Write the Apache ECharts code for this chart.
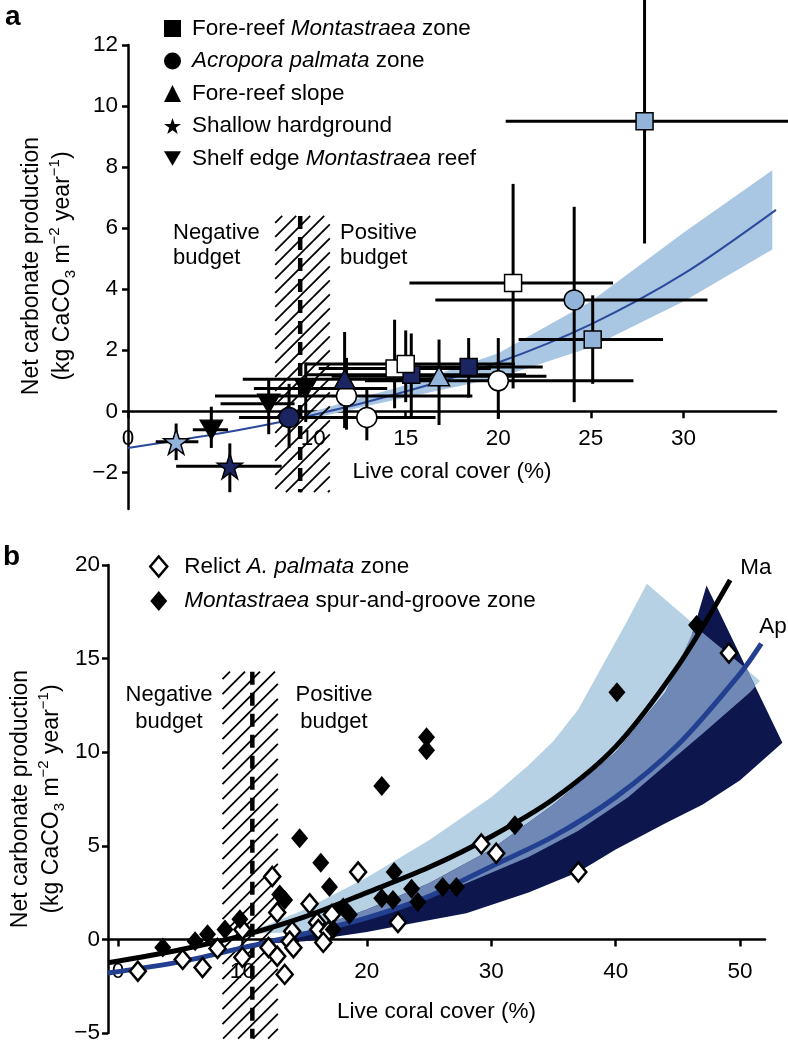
<!DOCTYPE html>
<html>
<head>
<meta charset="utf-8">
<script src="https://cdn.jsdelivr.net/npm/echarts@6.0.0/dist/echarts.min.js"></script>
<style>
  html, body { margin: 0; background: #fff; }
  #chart { width: 788px; height: 1046px; }
</style>
</head>
<body>
<div id="chart"></div>
<script>
const FONT = '"Liberation Sans", Arial, Helvetica, sans-serif'

// ---------- panel a : [cover, production, cover lo, cover hi, prod lo, prod hi]
const foreReefMontastraea = [
  [27.9, 9.5, 20.4, 35.7, 5.5, 14.0],
  [20.8, 4.2, 15.2, 26.2, 0.75, 7.45],
  [25.1, 2.35, 21.1, 28.9, 0.9, 3.8],
  [18.4, 1.45, 14.3, 22.4, 0.45, 2.4],
  [15.3, 1.2, 9.6, 21.5, -0.2, 2.55],
  [14.4, 1.4, 10.3, 19.6, 0.1, 3.0],
  [15.0, 1.55, 9.6, 20.9, 0.3, 2.65]
]
const foreReefMontastraeaSite = ['B', 'C', 'B', 'A', 'A', 'C', 'C']

const acroporaPalmata = [
  [24.1, 3.65, 16.6, 31.3, 0.3, 6.7],
  [20.0, 1.0, 12.8, 27.3, -0.25, 2.4],
  [11.8, 0.5, 4.7, 18.6, -0.6, 1.75],
  [12.9, -0.2, 9.0, 16.6, -0.95, 0.75],
  [8.7, -0.2, 6.0, 16.6, -1.2, 0.9]
]
const acroporaPalmataSite = ['B', 'C', 'C', 'C', 'A']

const foreReefSlope = [
  [16.8, 1.15, 11.0, 22.6, -0.45, 2.35],
  [11.7, 1.05, 6.2, 17.2, -0.55, 2.6]
]
const foreReefSlopeSite = ['B', 'A']

const shallowHardground = [
  [2.6, -1.0, 1.5, 3.8, -1.6, -0.4],
  [5.5, -1.8, 2.6, 8.3, -2.65, -1.05]
]
const shallowHardgroundSite = ['B', 'A']

const shelfEdge = [
  [4.5, -0.6, 3.5, 5.4, -1.2, 0.15],
  [7.6, 0.25, 5.0, 9.0, -0.75, 1.05],
  [9.6, 0.75, 6.8, 14.0, -0.35, 1.6]
]

const fitA = [[0, -1.2], [5, -0.72], [10, -0.12], [15, 0.65], [20, 1.6], [25, 2.85], [30, 4.5], [35, 6.6]]
const bandAUpper = [[9.5, -0.1], [12, 0.35], [15, 0.85], [20, 1.9], [25, 3.6], [30, 5.85], [34.8, 7.9]]
const bandALower = [[9.5, -0.3], [12, 0.05], [15, 0.45], [20, 1.1], [25, 2.1], [30, 3.6], [34.8, 5.3]]
const hatchA = [7.95, 10.9, -2.65, 6.4]   // cover from, cover to, prod from, prod to
const thresholdA = 9.3
const xTicksA = [0, 10, 15, 20, 25, 30]
const yTicksA = [-2, 0, 2, 4, 6, 8, 10, 12]

// ---------- panel b : [cover, production]
const relictPalmata = [
  [1.6, -1.7], [5.2, -1.07], [6.8, -1.5], [8.0, -0.48], [10.0, 0.53], [10.0, -0.96],
  [12.4, 3.36], [12.8, 1.44], [12.1, -0.43], [12.8, -0.9], [13.4, -1.87], [14.0, 0.43],
  [13.8, -0.1], [14.1, -0.45], [15.4, 1.9], [16.0, 0.9], [16.1, 0.53], [16.9, 0.43],
  [16.5, -0.16], [17.2, 1.33], [19.3, 3.6], [22.5, 0.9], [29.2, 5.1], [30.4, 4.6],
  [37.0, 3.6], [49.1, 15.3]
]
const montastraeaSpur = [
  [3.6, -0.43], [6.2, -0.1], [7.2, 0.27], [8.6, 0.53], [9.8, 1.07], [13.0, 2.4],
  [13.4, 2.1], [14.6, 5.4], [16.3, 4.1], [17.0, 2.8], [17.3, 0.53], [18.1, 1.7],
  [18.6, 1.33], [21.2, 8.2], [22.2, 3.6], [21.2, 2.2], [22.1, 2.1], [23.6, 2.7],
  [24.1, 2.0], [24.8, 10.8], [24.8, 10.1], [26.1, 2.8], [27.2, 2.8], [31.9, 6.1],
  [40.1, 13.2], [46.5, 16.8]
]
const fitMa = [[-0.8, -1.25], [5, -0.55], [10, 0.2], [15, 1.2], [20, 2.5], [25, 3.85], [30, 5.5], [35, 7.5], [40, 10.3], [45, 14.6], [49.2, 19.2]]
const fitAp = [[-0.8, -1.8], [5, -1.2], [10, -0.45], [15, 0.3], [20, 1.15], [25, 2.3], [30, 3.9], [35, 5.5], [40, 7.6], [45, 10.4], [50, 14.2], [51.7, 15.8]]

const bandMaUpper = [[10.5, 0.35], [15, 1.6], [20, 3.3], [25, 5.3], [30, 7.6], [33, 9.3], [35, 10.6], [37, 12.3], [39.5, 15.3], [41, 17.1], [42.5, 19.0], [51.6, 13.8]]
const bandMaLower = [[10.5, 0.3], [15, 0.4], [20, 1.2], [24, 2.0], [28, 3.0], [33, 4.4], [37, 5.8], [41, 7.6], [44, 9.3], [47, 11.0], [50.8, 13.3]]
const bandApUpper = [[11.5, -0.2], [15, 0.4], [20, 1.6], [25, 3.0], [30, 4.8], [35, 7.2], [40, 10.0], [44, 13.2], [46, 16.0], [47.3, 18.9], [53.4, 10.5]]
const bandApLower = [[11.5, -0.25], [15, -0.1], [20, 0.4], [24, 0.9], [28, 1.4], [33, 2.5], [37, 3.6], [40, 4.8], [44, 6.2], [47, 7.2], [50, 8.5]]
const overlapUpper = [[15, 0.4], [20, 1.6], [25, 3.0], [30, 4.8], [35, 7.2], [40, 10.0], [44, 13.2], [46.4, 16.7], [50.6, 14.4], [51.2, 13.5]]
const overlapLower = [[15, 0.4], [20, 1.2], [24, 2.0], [28, 3.0], [33, 4.4], [37, 5.8], [41, 7.6], [44, 9.3], [47, 11.0], [50.8, 13.2]]
const hatchB = [8.4, 12.85, -5.3, 14.3]
const thresholdB = 10.8
const xTicksB = [0, 10, 20, 30, 40, 50]

// ---------- styling
const siteFill = { A: '#1b2561', B: '#93b4da', C: '#ffffff' }
const STAR = 'path://M12,0 L14.9,8.6 L24,8.6 L16.6,14 L19.4,22.8 L12,17.4 L4.6,22.8 L7.4,14 L0,8.6 L9.1,8.6 Z'
const DOWN = 'path://M0,0 L20,0 L10,17 Z'
const FS = 22.5

const chart = echarts.init(document.getElementById('chart'))

function points(rows, sites) {
  return rows.map((r, i) => sites
    ? { value: [r[0], r[1]], itemStyle: { color: siteFill[sites[i]] } }
    : [r[0], r[1]])
}

function scatter(name, rows, sites, symbol, size, gi) {
  return {
    name, type: 'scatter', xAxisIndex: gi, yAxisIndex: gi, z: 5,
    symbol, symbolSize: size,
    itemStyle: { color: '#000', borderColor: '#000', borderWidth: 1.5, opacity: 1 },
    data: points(rows, sites)
  }
}

function polygon(upper, lower, color, gi, z) {
  const pts = upper.concat(lower.slice().reverse())
  return {
    type: 'custom', xAxisIndex: gi, yAxisIndex: gi, z, silent: true, data: pts,
    renderItem: (params, api) => params.dataIndex !== 0 ? null : {
      type: 'polygon', shape: { points: pts.map(p => api.coord(p)) }, style: { fill: color }
    }
  }
}

function hatch(box, threshold, gi, gap) {
  return {
    type: 'custom', xAxisIndex: gi, yAxisIndex: gi, z: 3, silent: true, data: [box],
    renderItem(params, api) {
      const tl = api.coord([box[0], box[3]])
      const br = api.coord([box[1], box[2]])
      const L = tl[0], T = tl[1], R = br[0], B = br[1]
      const children = []
      for (let c = L + T + gap / 2; c < R + B; c += gap) {
        const xa = Math.max(L, c - B), xb = Math.min(R, c - T)
        if (xb > xa) children.push({ type: 'line', shape: { x1: xa, y1: c - xa, x2: xb, y2: c - xb }, style: { stroke: '#000', lineWidth: 1.8 } })
      }
      const t0 = api.coord([threshold, box[3]]), t1 = api.coord([threshold, box[2]])
      children.push({ type: 'line', shape: { x1: t0[0], y1: t0[1], x2: t1[0], y2: t1[1] }, style: { stroke: '#000', lineWidth: 4.5, lineDash: [13, 8] } })
      return { type: 'group', children }
    }
  }
}

function errorBars(rows) {
  return {
    type: 'custom', xAxisIndex: 0, yAxisIndex: 0, z: 4, silent: true, data: rows,
    renderItem(params, api) {
      const x = api.value(0), y = api.value(1)
      const a = api.coord([api.value(2), y]), b = api.coord([api.value(3), y])
      const c = api.coord([x, api.value(4)]), d = api.coord([x, api.value(5)])
      const style = { stroke: '#000', lineWidth: 3 }
      return {
        type: 'group', children: [
          { type: 'line', shape: { x1: a[0], y1: a[1], x2: b[0], y2: b[1] }, style },
          { type: 'line', shape: { x1: c[0], y1: c[1], x2: d[0], y2: d[1] }, style }
        ]
      }
    }
  }
}

const axisText = { fontSize: FS, fontFamily: FONT, color: '#000' }
const axisLine = { lineStyle: { color: '#000', width: 2.5 } }

// the x axes cross at production = 0; v6 keeps labels at the grid edge with onZero, so shift the whole axis up
function xAxis(gi, min, max, ticks, margin, nameGap, offset) {
  return {
    type: 'value', gridIndex: gi, min, max, offset,
    name: 'Live coral cover (%)', nameLocation: 'middle', nameGap,
    nameTextStyle: axisText,
    axisLine: { show: true, onZero: false, ...axisLine },
    axisTick: { show: true, length: 7, customValues: ticks, lineStyle: { color: '#000', width: 2.5 } },
    axisLabel: { ...axisText, margin, customValues: ticks },
    splitLine: { show: false }
  }
}

function yAxis(gi, min, max, ticks, margin) {
  return {
    type: 'value', gridIndex: gi, min, max,
    axisLine: { show: true, onZero: false, ...axisLine },
    axisTick: { show: true, length: 6, customValues: ticks, lineStyle: { color: '#000', width: 2.5 } },
    axisLabel: { ...axisText, margin, customValues: ticks, formatter: v => String(v).replace('-', '\u2212') },
    splitLine: { show: false }
  }
}

const legendNames = {
  'Fore-reef Montastraea zone': 'Fore-reef {i|Montastraea} zone',
  'Acropora palmata zone': '{i|Acropora palmata} zone',
  'Fore-reef slope': 'Fore-reef slope',
  'Shallow hardground': 'Shallow hardground',
  'Shelf edge Montastraea reef': 'Shelf edge {i|Montastraea} reef',
  'Relict A. palmata zone': 'Relict {i|A. palmata} zone',
  'Montastraea spur-and-groove zone': '{i|Montastraea} spur-and-groove zone'
}
const legendText = {
  fontSize: FS, fontFamily: FONT, color: '#000',
  rich: { i: { fontSize: FS, fontFamily: FONT, fontStyle: 'italic', color: '#000' } }
}
const black = { color: '#000', borderWidth: 0 }

const yTitle = '{t|Net carbonate production}\n{t|(kg CaCO}{sub|3}{t| m}{sup|\u22122}{t| year}{sup|\u22121}{t|)}'
const yTitleRich = {
  t: { fontSize: 23, fontFamily: FONT, lineHeight: 31, fill: '#000' },
  sub: { fontSize: 15, fontFamily: FONT, verticalAlign: 'bottom', lineHeight: 28, fill: '#000' },
  sup: { fontSize: 15, fontFamily: FONT, verticalAlign: 'top', lineHeight: 28, fill: '#000' }
}
const plain = (text, x, y, lh, align) => ({
  type: 'text', x, y,
  style: { text, font: '22px ' + FONT, lineHeight: lh, fill: '#000', align, verticalAlign: 'top' }
})

const option = {
  animation: false,
  backgroundColor: '#fff',
  textStyle: { fontFamily: FONT },
  grid: [
    { left: 128, right: 12, top: 45, height: 464, outerBoundsMode: 'none' },
    { left: 108, right: 23, top: 565, height: 468, outerBoundsMode: 'none' }
  ],
  xAxis: [
    xAxis(0, 0, 35, xTicksA, 16, 49, -97.7),
    xAxis(1, -0.8, 52, xTicksB, 21, 61, -93.6)
  ],
  yAxis: [yAxis(0, -3.2, 12, yTicksA, 10), yAxis(1, -5, 20, null, 8)],
  legend: [
    {
      left: 159, top: 12, orient: 'vertical', itemGap: 9.5, itemWidth: 17, itemHeight: 17,
      selectedMode: false, formatter: n => legendNames[n],
      textStyle: { ...legendText, padding: [0, 0, 0, 6] },
      data: [
        { name: 'Fore-reef Montastraea zone', icon: 'rect', itemStyle: black },
        { name: 'Acropora palmata zone', icon: 'circle', itemStyle: black },
        { name: 'Fore-reef slope', icon: 'triangle', itemStyle: black },
        { name: 'Shallow hardground', icon: STAR, itemStyle: black },
        { name: 'Shelf edge Montastraea reef', icon: DOWN, itemStyle: black }
      ]
    },
    {
      left: 144, top: 550, orient: 'vertical', itemGap: 11.5, itemWidth: 17, itemHeight: 20,
      selectedMode: false, formatter: n => legendNames[n],
      textStyle: { ...legendText, padding: [0, 0, 0, 12] },
      data: [
        { name: 'Relict A. palmata zone', icon: 'diamond', itemStyle: { color: '#fff', borderColor: '#000', borderWidth: 2.5 } },
        { name: 'Montastraea spur-and-groove zone', icon: 'diamond', itemStyle: black }
      ]
    }
  ],
  graphic: [
    { type: 'text', left: 5, top: 3, style: { text: 'a', font: 'bold 28px ' + FONT, fill: '#000' } },
    { type: 'text', left: 3, top: 543, style: { text: 'b', font: 'bold 28px ' + FONT, fill: '#000' } },
    { type: 'text', x: 47, y: 266, rotation: Math.PI / 2, style: { text: yTitle, rich: yTitleRich, align: 'center', verticalAlign: 'middle' } },
    { type: 'text', x: 36, y: 799, rotation: Math.PI / 2, style: { text: yTitle, rich: yTitleRich, align: 'center', verticalAlign: 'middle' } },
    plain('Negative\nbudget', 173, 220, 25, 'left'),
    plain('Positive\nbudget', 340, 220, 25, 'left'),
    plain('Negative\nbudget', 169, 681, 27, 'center'),
    plain('Positive\nbudget', 334, 681, 27, 'center')
  ],
  series: [
    // panel a
    polygon(bandAUpper, bandALower, '#a9c6e3', 0, 1),
    {
      type: 'line', xAxisIndex: 0, yAxisIndex: 0, z: 2, smooth: 0.3, showSymbol: false, silent: true,
      lineStyle: { color: '#2c4a9c', width: 2 }, data: fitA
    },
    hatch(hatchA, thresholdA, 0, 14),
    errorBars([].concat(foreReefMontastraea, acroporaPalmata, foreReefSlope, shallowHardground, shelfEdge)),
    scatter('Fore-reef Montastraea zone', foreReefMontastraea, foreReefMontastraeaSite, 'rect', 17, 0),
    scatter('Acropora palmata zone', acroporaPalmata, acroporaPalmataSite, 'circle', 20, 0),
    scatter('Fore-reef slope', foreReefSlope, foreReefSlopeSite, 'triangle', [21, 19], 0),
    scatter('Shallow hardground', shallowHardground, shallowHardgroundSite, STAR, 25, 0),
    scatter('Shelf edge Montastraea reef', shelfEdge, null, DOWN, [22, 19], 0),

    // panel b
    polygon(bandMaUpper, bandMaLower, '#b7d1e4', 1, 1),
    polygon(bandApUpper, bandApLower, '#0d174d', 1, 1),
    polygon(overlapUpper, overlapLower, '#6f88b5', 1, 1),
    hatch(hatchB, thresholdB, 1, 15),
    {
      type: 'line', xAxisIndex: 1, yAxisIndex: 1, z: 3, smooth: 0.3, showSymbol: false, silent: true,
      lineStyle: { color: '#22408f', width: 5 }, data: fitAp,
      endLabel: { show: true, formatter: 'Ap', ...axisText, offset: [-10, -17] }
    },
    {
      type: 'line', xAxisIndex: 1, yAxisIndex: 1, z: 3, smooth: 0.3, showSymbol: false, silent: true,
      lineStyle: { color: '#000', width: 5 }, data: fitMa,
      endLabel: { show: true, formatter: 'Ma', ...axisText, offset: [2, -12] }
    },
    {
      name: 'Relict A. palmata zone', type: 'scatter', xAxisIndex: 1, yAxisIndex: 1, z: 5,
      symbol: 'diamond', symbolSize: [16, 19],
      itemStyle: { color: '#fff', borderColor: '#000', borderWidth: 2.5, opacity: 1 }, data: relictPalmata
    },
    {
      name: 'Montastraea spur-and-groove zone', type: 'scatter', xAxisIndex: 1, yAxisIndex: 1, z: 5,
      symbol: 'diamond', symbolSize: [17, 20],
      itemStyle: { color: '#000', borderWidth: 0, opacity: 1 }, data: montastraeaSpur
    }
  ]
}

chart.setOption(option)
window.addEventListener('resize', () => chart.resize())
</script>
</body>
</html>
